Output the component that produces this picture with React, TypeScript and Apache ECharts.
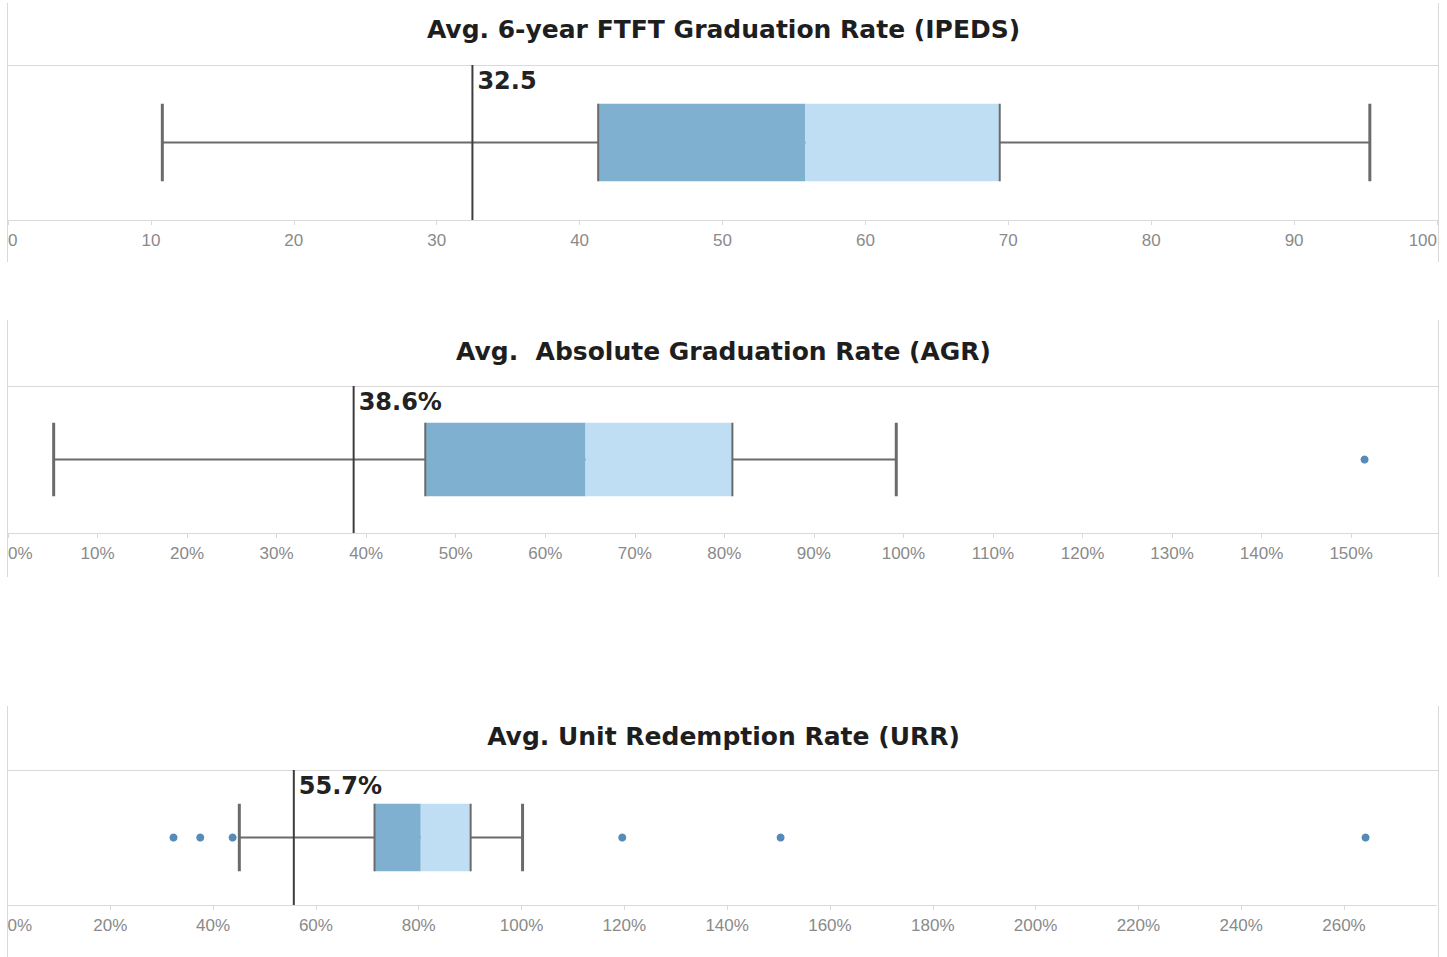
import React, { useEffect, useRef } from "react";
import * as echarts from "echarts";

// ---------- data ----------
const titles = [
  "Avg. 6-year FTFT Graduation Rate (IPEDS)",
  "Avg.  Absolute Graduation Rate (AGR)",
  "Avg. Unit Redemption Rate (URR)",
];
const categories = ["IPEDS", "AGR", "URR"];

// [lower whisker, Q1, median, Q3, upper whisker]
const ipedsBox = [10.8, 41.3, 55.8, 69.4, 95.3];
const agrBox = [5.1, 46.6, 64.5, 80.9, 99.2];
const urrBox = [45.1, 71.4, 80.4, 90.1, 100.2];

const means = [32.5, 38.6, 55.7];

const ipedsOutliers: number[] = [];
const agrOutliers = [151.5];
const urrOutliers = [32.3, 37.5, 43.8, 119.6, 150.4, 264.2];

const axisMax = [100, 159.7, 278];
const axisInterval = [10, 10, 20];
const unitSuffix = ["", "%", "%"];

// ---------- styles ----------
const DARK = "#7fb0cf";
const LIGHT = "#bfddf3";
const WHISKER = "#6b6b6b";
const MEAN = "#3d3d3d";
const DOT = "#2c6ea8";
const FRAME = "#d9d9d9";
const TITLE_FONT = "'DejaVu Sans', Verdana, sans-serif";
const LABEL_FONT = "'Liberation Sans', Arial, sans-serif";

const grids = [
  { left: 8, top: 65, width: 1429, height: 155 },
  { left: 8, top: 386, width: 1430, height: 147 },
  { left: 7.5, top: 770, width: 1429, height: 135 },
];
const frames = [
  { y1: 3, y2: 262 },
  { y1: 320, y2: 577 },
  { y1: 706, y2: 957 },
];
const titleCenters = [31, 353, 738];

const boxes = [ipedsBox, agrBox, urrBox];
const outliers = [ipedsOutliers, agrOutliers, urrOutliers];

function makeRender(idx: number) {
  return (params: any, api: any) => {
    const cs = params.coordSys;
    const lo = api.coord([api.value(0), 0]);
    const yc = lo[1];
    const band = api.size([0, 1])[1];
    const h = band * 0.25;
    const xs = [0, 1, 2, 3, 4].map((k) => api.coord([api.value(k), 0])[0]);
    const mx = api.coord([api.value(5), 0])[0];
    const [xlo, xq1, xmed, xq3, xhi] = xs;
    const children: any[] = [
      {
        type: "line",
        shape: { x1: xlo, y1: yc, x2: xhi, y2: yc },
        style: { stroke: WHISKER, lineWidth: 2 },
      },
      {
        type: "line",
        shape: { x1: xlo, y1: yc - h, x2: xlo, y2: yc + h },
        style: { stroke: WHISKER, lineWidth: 3 },
      },
      {
        type: "line",
        shape: { x1: xhi, y1: yc - h, x2: xhi, y2: yc + h },
        style: { stroke: WHISKER, lineWidth: 3 },
      },
      {
        type: "rect",
        shape: { x: xq1, y: yc - h, width: xmed - xq1, height: 2 * h },
        style: { fill: DARK },
      },
      {
        type: "rect",
        shape: { x: xmed, y: yc - h, width: xq3 - xmed, height: 2 * h },
        style: { fill: LIGHT },
      },
      {
        type: "line",
        shape: { x1: xq1, y1: yc - h, x2: xq1, y2: yc + h },
        style: { stroke: WHISKER, lineWidth: 2 },
      },
      {
        type: "line",
        shape: { x1: xq3, y1: yc - h, x2: xq3, y2: yc + h },
        style: { stroke: WHISKER, lineWidth: 2 },
      },
      {
        type: "line",
        shape: { x1: mx, y1: cs.y, x2: mx, y2: cs.y + cs.height },
        style: { stroke: MEAN, lineWidth: 2 },
      },
      {
        type: "text",
        x: mx + 5,
        y: cs.y + 16,
        style: {
          text: api.value(5).toFixed(1) + unitSuffix[idx],
          fontFamily: TITLE_FONT,
          fontWeight: "bold",
          fontSize: 24,
          fill: "#222",
          verticalAlign: "middle",
          align: "left",
        },
      },
    ];
    return { type: "group", children };
  };
}

export default function App() {
  const ref = useRef<HTMLDivElement>(null);
  useEffect(() => {
    if (!ref.current) return;
    const chart = echarts.init(ref.current, undefined, { renderer: "svg" });

    const graphics: any[] = [];
    frames.forEach((f, i) => {
      graphics.push({
        type: "line",
        shape: { x1: 7.5, y1: f.y1, x2: 7.5, y2: f.y2 },
        style: { stroke: FRAME, lineWidth: 1 },
        silent: true,
      });
      graphics.push({
        type: "line",
        shape: { x1: 1438.5, y1: f.y1, x2: 1438.5, y2: f.y2 },
        style: { stroke: FRAME, lineWidth: 1 },
        silent: true,
      });
      graphics.push({
        type: "line",
        shape: { x1: 7.5, y1: grids[i].top + 0.5, x2: 1438.5, y2: grids[i].top + 0.5 },
        style: { stroke: FRAME, lineWidth: 1 },
        silent: true,
      });
    });

    const series: any[] = [];
    boxes.forEach((b, i) => {
      series.push({
        type: "custom",
        name: categories[i],
        xAxisIndex: i,
        yAxisIndex: i,
        renderItem: makeRender(i),
        encode: { x: [0, 1, 2, 3, 4, 5], y: 6 },
        data: [[...b, means[i], 0]],
        z: 2,
      });
      if (outliers[i].length) {
        series.push({
          type: "scatter",
          name: categories[i] + " outliers",
          xAxisIndex: i,
          yAxisIndex: i,
          symbolSize: 8,
          itemStyle: { color: DOT },
          data: outliers[i].map((v) => [v, 0]),
          z: 3,
        });
      }
    });

    chart.setOption({
      animation: false,
      backgroundColor: "#ffffff",
      title: titles.map((t, i) => ({
        text: t,
        left: "center",
        top: titleCenters[i] - 14,
        padding: 0,
        textStyle: {
          fontFamily: TITLE_FONT,
          fontWeight: "bold",
          fontSize: 25,
          color: "#1e1e1e",
        },
      })),
      grid: grids.map((g) => ({ ...g, containLabel: false })),
      xAxis: grids.map((_, i) => ({
        type: "value",
        gridIndex: i,
        min: 0,
        max: axisMax[i],
        interval: axisInterval[i],
        splitLine: { show: false },
        axisLine: { show: true, lineStyle: { color: FRAME, width: 1 } },
        axisTick: { show: true, length: 5, lineStyle: { color: FRAME } },
        axisLabel: {
          margin: 12,
          color: "#8a8a8a",
          fontFamily: LABEL_FONT,
          fontSize: 17,
          showMaxLabel: i === 0,
          alignMinLabel: "left",
          alignMaxLabel: "right",
          formatter: (v: number) => Math.round(v) + unitSuffix[i],
        },
      })),
      yAxis: grids.map((_, i) => ({
        type: "category",
        gridIndex: i,
        data: [categories[i]],
        show: false,
      })),
      graphic: graphics,
      series,
    });
    return () => chart.dispose();
  }, []);
  return (
    <div
      ref={ref}
      style={{ position: "fixed", left: 0, top: 0, width: 1447, height: 957 }}
    />
  );
}
